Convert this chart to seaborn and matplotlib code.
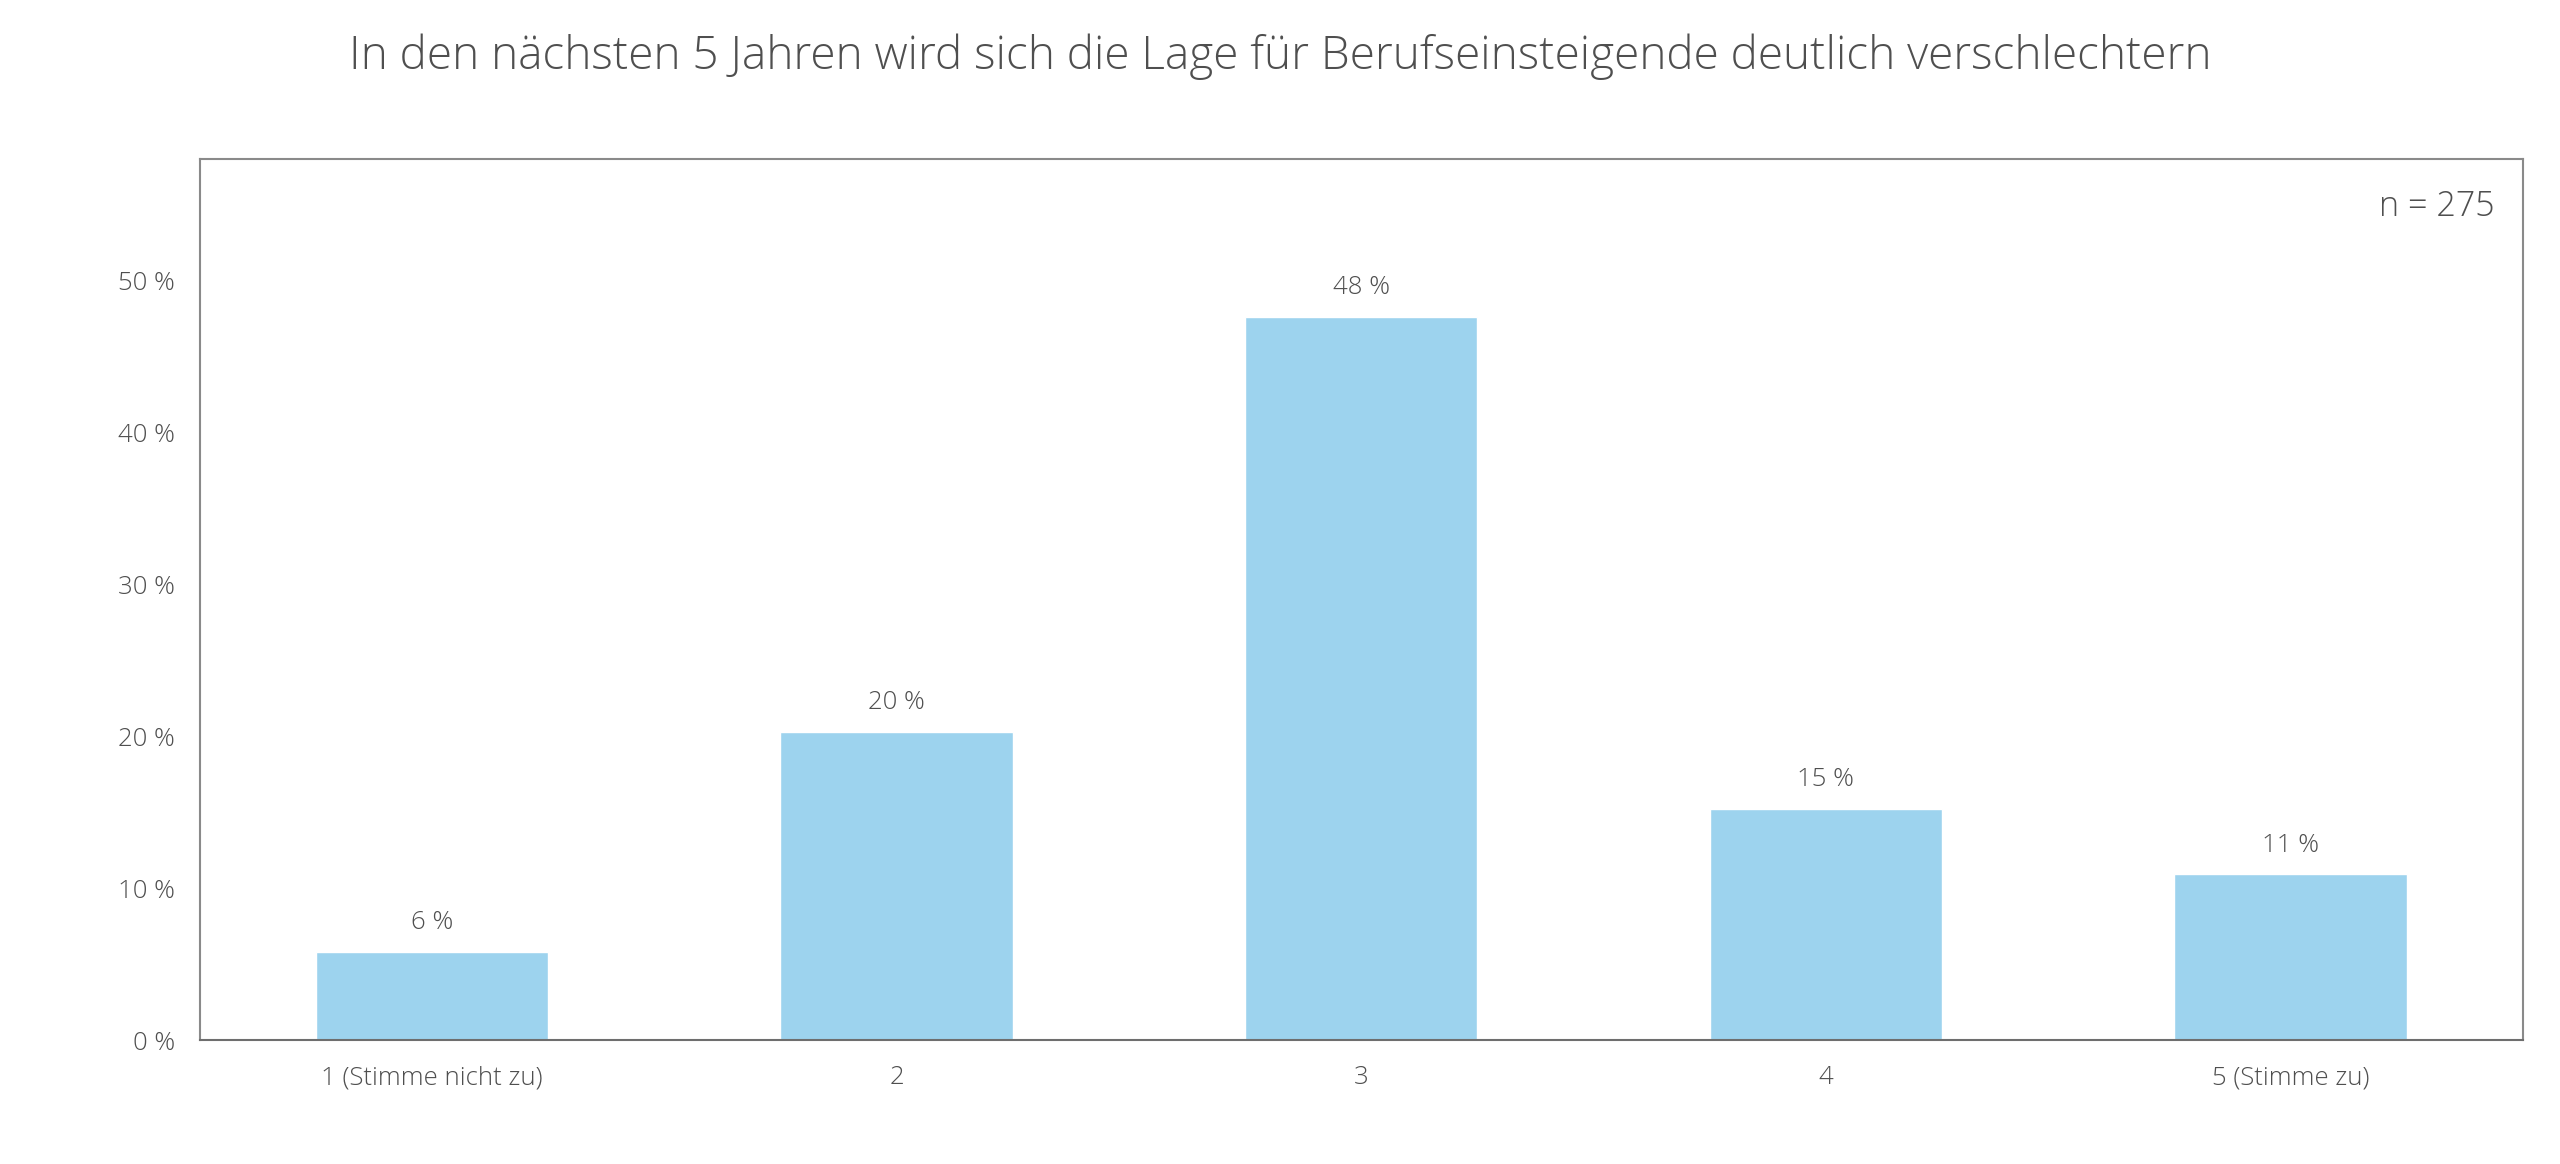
import seaborn as sns
import matplotlib.pyplot as plt
import pandas as pd

categories = ['1 (Stimme nicht zu)', '2', '3', '4', '5 (Stimme zu)']
shares = [5.8, 20.3, 47.6, 15.2, 10.9]
labels = ['6 %', '20 %', '48 %', '15 %', '11 %']
yticks = [0, 10, 20, 30, 40, 50]

sns.set_style('white')
plt.rcParams['font.family'] = ['Open Sans', 'DejaVu Sans']
grey = '#4f4f4f'

df = pd.DataFrame({'antwort': categories, 'anteil': shares})

fig = plt.figure(figsize=(25.6, 11.64), dpi=100)
ax = fig.add_axes([0.078, 0.1065, 0.9075, 0.757])
sns.barplot(data=df, x='antwort', y='anteil', color='#9dd3ee', saturation=1,
            width=0.5, ax=ax)

for i, (v, t) in enumerate(zip(shares, labels)):
    ax.text(i, v + 1.1, t, ha='center', va='bottom', fontsize=18.5,
            color=grey, fontweight='light')

ax.set_xlim(-0.5, 4.5)
ax.set_ylim(0, 58)
ax.set_yticks(yticks)
ax.set_yticklabels([f'{t} %' for t in yticks])
ax.tick_params(axis='both', length=0, labelsize=18.5, colors=grey, pad=18)
ax.tick_params(axis='y', pad=18)
for lab in ax.get_xticklabels() + ax.get_yticklabels():
    lab.set_fontweight('light')
ax.set_xlabel('')
ax.set_ylabel('')
for s in ax.spines.values():
    s.set_color('#8a8a8a')
    s.set_linewidth(1.5)
ax.spines['bottom'].set_color('#6e6e6e')

ax.text(0.988, 0.965, 'n = 275', transform=ax.transAxes, ha='right', va='top',
        fontsize=24.5, color=grey, fontweight='light')

fig.text(0.5, 0.951, 'In den nächsten 5 Jahren wird sich die Lage für Berufseinsteigende deutlich verschlechtern',
         ha='center', va='center', fontsize=33, color=grey, fontweight='light')

fig.savefig('out.png', dpi=100)
